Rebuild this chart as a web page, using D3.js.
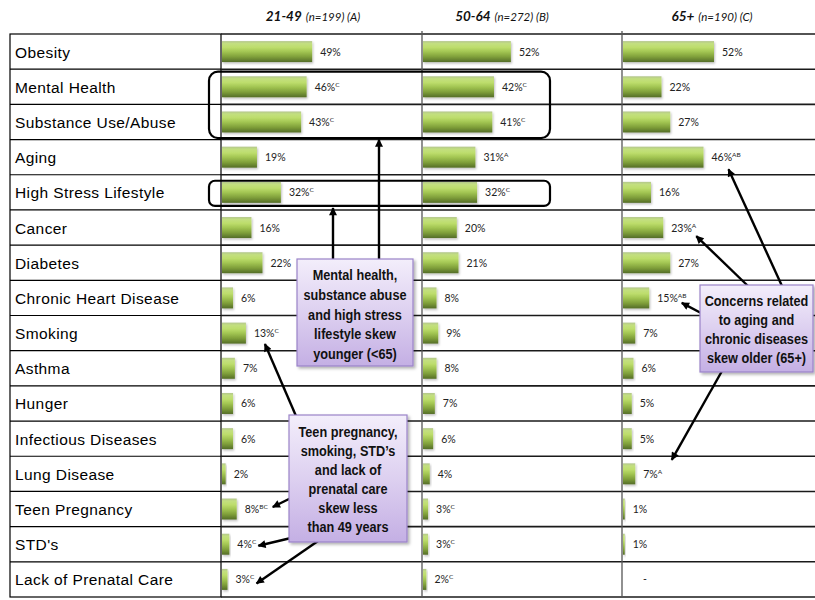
<!DOCTYPE html>
<html><head><meta charset="utf-8">
<script src="https://cdn.jsdelivr.net/npm/d3@7"></script>
<style>body{margin:0;background:#fff}</style>
</head><body><svg id="c" width="815" height="600"></svg>
<script>
// ---------- data ----------
const categories = ["Obesity","Mental Health","Substance Use/Abuse","Aging","High Stress Lifestyle","Cancer","Diabetes","Chronic Heart Disease","Smoking","Asthma","Hunger","Infectious Diseases","Lung Disease","Teen Pregnancy","STD's","Lack of Prenatal Care"];
const groupNames = ["21-49","50-64","65+"];
const groupNotes = ["(n=199) (A)","(n=272) (B)","(n=190) (C)"];
const valuesA = [49,46,43,19,32,16,22,6,13,7,6,6,2,8,4,3];
const valuesB = [52,42,41,31,32,20,21,8,9,8,7,6,4,3,3,2];
const valuesC = [52,22,27,46,16,23,27,15,7,6,5,5,7,1,1,0];
const sigA = ["","C","C","","C","","","","C","","","","","BC","C","C"];
const sigB = ["","C","C","A","C","","","","","","","","","C","C","C"];
const sigC = ["","","","AB","","A","","AB","","","","","A","","",""];
const calloutYoung = ["Mental health,","substance abuse","and high stress","lifestyle skew","younger (<65)"];
const calloutTeen = ["Teen pregnancy,","smoking, STD\u2019s","and lack of","prenatal care","skew less","than 49 years"];
const calloutOld = ["Concerns related","to aging and","chronic diseases","skew older (65+)"];

// ---------- layout ----------
const W = 815, H = 600;
const svg = d3.select("#c");
svg.append("rect").attr("width",W).attr("height",H).attr("fill","#fff");

const y = d3.scaleBand().domain(categories).range([34, 597]).padding(0);
const headerX = [313, 502, 712];
const xScales = [
  d3.scaleLinear().domain([0,100]).range([222, 222+184]),
  d3.scaleLinear().domain([0,100]).range([423, 423+169]),
  d3.scaleLinear().domain([0,100]).range([623, 623+175])
];
const cols = [valuesA, valuesB, valuesC];
const sigs = [sigA, sigB, sigC];

const defs = svg.append("defs");
const g = defs.append("linearGradient").attr("id","barG").attr("x1",0).attr("y1",0).attr("x2",0).attr("y2",1);
[[0,"#b3c68c"],[0.12,"#c3df80"],[0.3,"#bddd6c"],[0.5,"#a3c653"],[0.75,"#7f9f3a"],[1,"#546d27"]].forEach(s=>g.append("stop").attr("offset",s[0]).attr("stop-color",s[1]));
const pg = defs.append("linearGradient").attr("id","boxG").attr("x1",0).attr("y1",0).attr("x2",0).attr("y2",1);
[[0,"#f3eefb"],[0.5,"#ddd0f0"],[1,"#c4afe4"]].forEach(s=>pg.append("stop").attr("offset",s[0]).attr("stop-color",s[1]));
const f = defs.append("filter").attr("id","sh").attr("x","-20%").attr("y","-20%").attr("width","150%").attr("height","150%");
f.append("feDropShadow").attr("dx",2).attr("dy",2).attr("stdDeviation",1.5).attr("flood-color","#000").attr("flood-opacity",0.3);
const fb = defs.append("filter").attr("id","bsh").attr("x","-10%").attr("y","-20%").attr("width","130%").attr("height","160%");
fb.append("feDropShadow").attr("dx",1).attr("dy",1.5).attr("stdDeviation",0.8).attr("flood-color","#000").attr("flood-opacity",0.25);
defs.append("marker").attr("id","ah").attr("viewBox","0 0 10 10").attr("refX",9).attr("refY",5)
  .attr("markerWidth",9).attr("markerHeight",8).attr("markerUnits","userSpaceOnUse").attr("orient","auto")
  .append("path").attr("d","M0,0L10,5L0,10z").attr("fill","#000");

// ---------- headers ----------
groupNames.forEach((n,i)=>{
  const t = svg.append("text").attr("x",headerX[i]).attr("y",21).attr("text-anchor","middle")
    .attr("font-family","Lato, 'Open Sans', sans-serif").attr("font-style","italic").attr("fill","#111");
  t.append("tspan").attr("font-weight","bold").attr("font-size",13.5).text(n);
  t.append("tspan").attr("font-size",11.5).attr("dx",4).text(groupNotes[i]);
});

// ---------- grid ----------
svg.append("rect").attr("x",10).attr("y",34).attr("width",211).attr("height",563)
  .attr("fill","none").attr("stroke","#000").attr("stroke-width",1.2);
categories.forEach((c,i)=>{
  if(i>0) svg.append("line").attr("x1",10).attr("x2",221).attr("y1",y(c)).attr("y2",y(c)).attr("stroke","#000").attr("stroke-width",1.2);
  svg.append("text").attr("x",15).attr("y",y(c)+y.bandwidth()/2+6)
    .attr("font-family","'Liberation Sans', Arial, sans-serif").attr("font-size",15.5).attr("letter-spacing",0.4)
    .attr("fill","#000").text(c);
});
categories.concat(["__end"]).forEach((c,i)=>{
  const yy = i<categories.length ? y(c) : 597;
  svg.append("line").attr("x1",221).attr("x2",815).attr("y1",yy).attr("y2",yy).attr("stroke","#1a1a1a").attr("stroke-width",1.6);
});
[422,622].forEach(x=>svg.append("line").attr("x1",x).attr("x2",x).attr("y1",31).attr("y2",598).attr("stroke","#555").attr("stroke-width",1.3));

// ---------- bars ----------
cols.forEach((vals,ci)=>{
  const xs = xScales[ci];
  const gg = svg.append("g");
  gg.selectAll("rect").data(vals).join("rect")
    .attr("x",xs(0)).attr("y",(d,i)=>y(categories[i])+y.bandwidth()/2-10.5)
    .attr("width",d=>Math.max(0,xs(d)-xs(0))).attr("height",21)
    .attr("fill","url(#barG)").attr("filter","url(#bsh)");
  const lt = gg.selectAll("text").data(vals).join("text")
    .attr("x",(d,i)=> d===0 ? xs(0)+20 : xs(d)+8)
    .attr("y",(d,i)=>y(categories[i])+y.bandwidth()/2+4)
    .attr("font-family","Lato, 'Open Sans', sans-serif").attr("font-size",10.5).attr("fill","#222");
  lt.each(function(d,i){
    const t = d3.select(this);
    t.append("tspan").text(d===0 ? "-" : d+"%");
    if(sigs[ci][i]) t.append("tspan").attr("font-size",6.5).attr("dy",-4).text(sigs[ci][i]);
  });
});

// ---------- highlight rounded boxes ----------
function rowTop(c){return y(c);}
svg.append("rect").attr("x",209).attr("y",rowTop("Mental Health")+2.5).attr("width",341)
  .attr("height",y.bandwidth()*2-4).attr("rx",9).attr("fill","none").attr("stroke","#000").attr("stroke-width",2.2);
svg.append("rect").attr("x",209).attr("y",rowTop("High Stress Lifestyle")+6).attr("width",341)
  .attr("height",y.bandwidth()-10).attr("rx",6).attr("fill","none").attr("stroke","#000").attr("stroke-width",2.2);

// ---------- arrows ----------
function labelX(ci,c){const i=categories.indexOf(c);return xScales[ci](cols[ci][i])+8;}
function rowC(c){return y(c)+y.bandwidth()/2;}
const arrows = [
  {from:[333,259], to:[333, rowTop("High Stress Lifestyle")+y.bandwidth()-2]},
  {from:[379,259], to:[379, rowTop("Mental Health")+y.bandwidth()*2+0]},
  {from:[296,416], to:[labelX(0,"Smoking")+11, rowC("Smoking")+11]},
  {from:[291,498], to:[labelX(0,"Teen Pregnancy")+28, rowC("Teen Pregnancy")-2]},
  {from:[291,538], to:[labelX(0,"STD's")+21, rowC("STD's")+1.5]},
  {from:[318,541], to:[labelX(0,"Lack of Prenatal Care")+21, rowC("Lack of Prenatal Care")+4]},
  {from:[782,286], to:[labelX(2,"Aging")+17, rowC("Aging")+12]},
  {from:[748,286], to:[labelX(2,"Cancer")+25, rowC("Cancer")+8.5]},
  {from:[701,313], to:[labelX(2,"Chronic Heart Disease")+24.5, rowC("Chronic Heart Disease")+5]},
  {from:[722,371], to:[labelX(2,"Lung Disease")+28.5, rowC("Lung Disease")-14]}
];
arrows.forEach(a=>{
  svg.append("line").attr("x1",a.from[0]).attr("y1",a.from[1]).attr("x2",a.to[0]).attr("y2",a.to[1])
    .attr("stroke","#000").attr("stroke-width",2.4).attr("marker-end","url(#ah)");
});

// ---------- callout boxes ----------
function callout(x,yTop,w,h,lines,firstCenter,lh){
  svg.append("rect").attr("x",x).attr("y",yTop).attr("width",w).attr("height",h)
    .attr("fill","url(#boxG)").attr("stroke","#9a83c8").attr("stroke-width",1.2).attr("filter","url(#sh)");
  const t = svg.append("text").attr("text-anchor","middle")
    .attr("transform",`translate(${x+w/2},0) scale(0.82,1)`)
    .attr("font-family","'Liberation Sans',Arial,sans-serif")
    .attr("font-weight","bold").attr("font-size",15.5).attr("fill","#111");
  lines.forEach((l,i)=>t.append("tspan").attr("x",0).attr("y",firstCenter+i*lh+5.5).text(l));
}
callout(297,259,116,107,calloutYoung,275,19.6);
callout(289,415,118,127,calloutTeen,432,19);
callout(700,285,113,87,calloutOld,301,19);
</script></body></html>
